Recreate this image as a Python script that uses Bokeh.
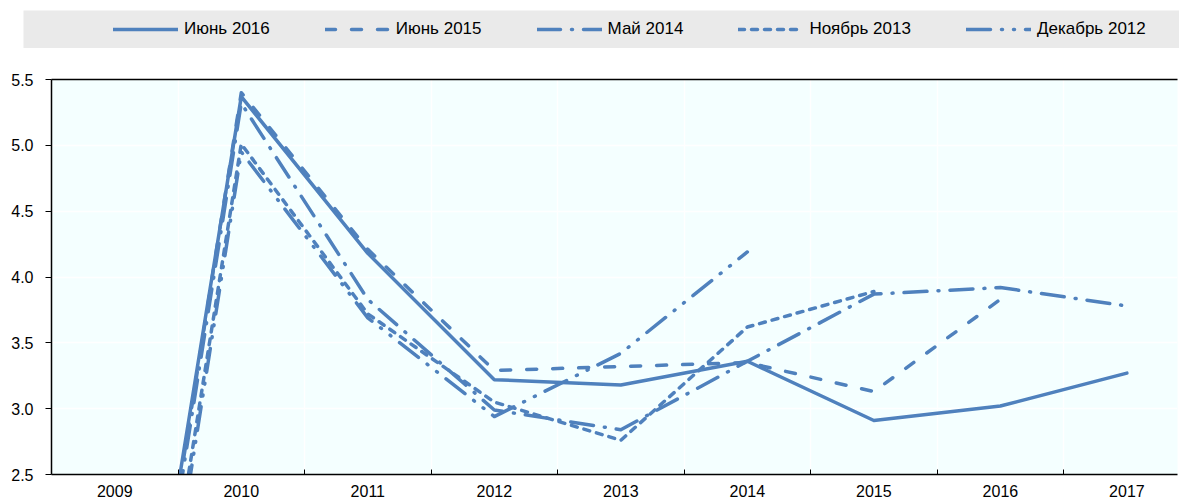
import math
from bokeh.plotting import figure
from bokeh.models import (Range1d, FixedTicker, LinearAxis, Legend, LegendItem,
                          ColumnDataSource, NumeralTickFormatter)
from bokeh.layouts import column
from bokeh.embed import file_html
from bokeh.resources import INLINE

nan = float("nan")

years = [2009, 2010, 2011, 2012, 2013, 2014, 2015, 2016, 2017]
jun2016 = [-0.55, 5.37, 4.18, 3.22, 3.18, 3.36, 2.91, 3.02, 3.27]
jun2015 = [-0.70, 5.40, 4.21, 3.29, 3.32, 3.35, 3.13, 3.83, nan]
may2014 = [-0.75, 5.32, 3.83, 2.99, 2.84, 3.36, 3.87, 3.92, 3.78]
nov2013 = [-1.00, 5.01, 3.72, 3.05, 2.76, 3.62, 3.89, nan, nan]
dec2012 = [-1.15, 4.95, 3.69, 2.94, 3.42, 4.19, nan, nan, nan]

series_names = ["Июнь 2016", "Июнь 2015", "Май 2014", "Ноябрь 2013", "Декабрь 2012"]
series_values = [jun2016, jun2015, may2014, nov2013, dec2012]
y_ticks = [2.5, 3.0, 3.5, 4.0, 4.5, 5.0, 5.5]

COLOR = "#4f81bd"
FONT = "Liberation Sans"
FS = "16px"
dashes = ["solid", "10 16", "23 11 1 11", "6 7", "24 11 1 11 1 11"]
LW = 3.5

W = 1179

# ---------------- legend band ----------------
pl = figure(width=W, height=48, output_backend="svg", toolbar_location=None,
            x_range=Range1d(0, 1), y_range=Range1d(0, 1),
            x_axis_location=None, y_axis_location=None,
            min_border_left=23, min_border_right=0, min_border_top=10, min_border_bottom=0)
try:
    pl.frame_align = False
except Exception:
    pass
pl.grid.visible = False
pl.outline_line_color = None
pl.background_fill_color = "#eaeaea"
pl.border_fill_color = "white"

items = []
for name, vals, d in zip(series_names, series_values, dashes):
    # same series, drawn outside this band's visible range: only the legend sample shows
    r = pl.line(x=years, y=vals, line_color=COLOR, line_width=LW, line_dash=d,
                line_cap="round", line_join="round")
    items.append(LegendItem(label=name, renderers=[r]))
leg = Legend(items=items, orientation="horizontal", location=(90, 9),
             glyph_width=65, glyph_height=20, label_standoff=6, spacing=55,
             padding=0, margin=0, background_fill_alpha=0, border_line_color=None,
             label_text_font=FONT, label_text_font_size="17px", label_text_color="#000000")
pl.add_layout(leg, "center")

# ---------------- main chart ----------------
p = figure(width=W, height=451, output_backend="svg", toolbar_location=None,
           x_range=Range1d(2008.5, 2017.4), y_range=Range1d(2.5, 5.5),
           min_border_left=51, min_border_right=2, min_border_top=31, min_border_bottom=25)
try:
    p.frame_align = False
except Exception:
    pass
p.background_fill_color = "#f4ffff"
p.border_fill_color = "white"
p.outline_line_color = None

for vals, d in zip(series_values, dashes):
    src = ColumnDataSource(dict(x=years, y=vals))
    p.line("x", "y", source=src, line_color=COLOR, line_width=LW, line_dash=d,
           line_cap="round", line_join="round")

boundaries = [y + 0.5 for y in years[:-1]]
xax = p.xaxis[0]
xax.ticker = FixedTicker(ticks=years, minor_ticks=boundaries)
xax.major_tick_line_color = None
xax.minor_tick_line_color = "black"
xax.minor_tick_in = 5
xax.minor_tick_out = 0
xax.axis_line_color = "black"
xax.axis_line_width = 1.5
xax.major_label_standoff = 4
xax.major_label_text_font = FONT
xax.major_label_text_font_size = FS
xax.major_label_text_color = "#000000"

yax = p.yaxis[0]
yax.ticker = FixedTicker(ticks=y_ticks)
yax.formatter = NumeralTickFormatter(format="0.0")
yax.major_tick_in = 0
yax.major_tick_out = 6
yax.minor_tick_line_color = None
yax.axis_line_color = "black"
yax.axis_line_width = 1.5
yax.major_label_standoff = 12
yax.major_label_text_font = FONT
yax.major_label_text_font_size = FS
yax.major_label_text_color = "#000000"

top = LinearAxis(ticker=FixedTicker(ticks=[]), major_label_text_font_size="0px",
                 major_tick_line_color=None, minor_tick_line_color=None,
                 axis_line_color="black", axis_line_width=1.5)
p.add_layout(top, "above")

p.xgrid.grid_line_color = None
p.xgrid.minor_grid_line_color = "white"
p.xgrid.minor_grid_line_width = 1.5
p.ygrid.grid_line_color = "white"
p.ygrid.grid_line_width = 1.5

layout = column(pl, p, spacing=0)
open("out.html", "w").write(file_html(layout, INLINE))
